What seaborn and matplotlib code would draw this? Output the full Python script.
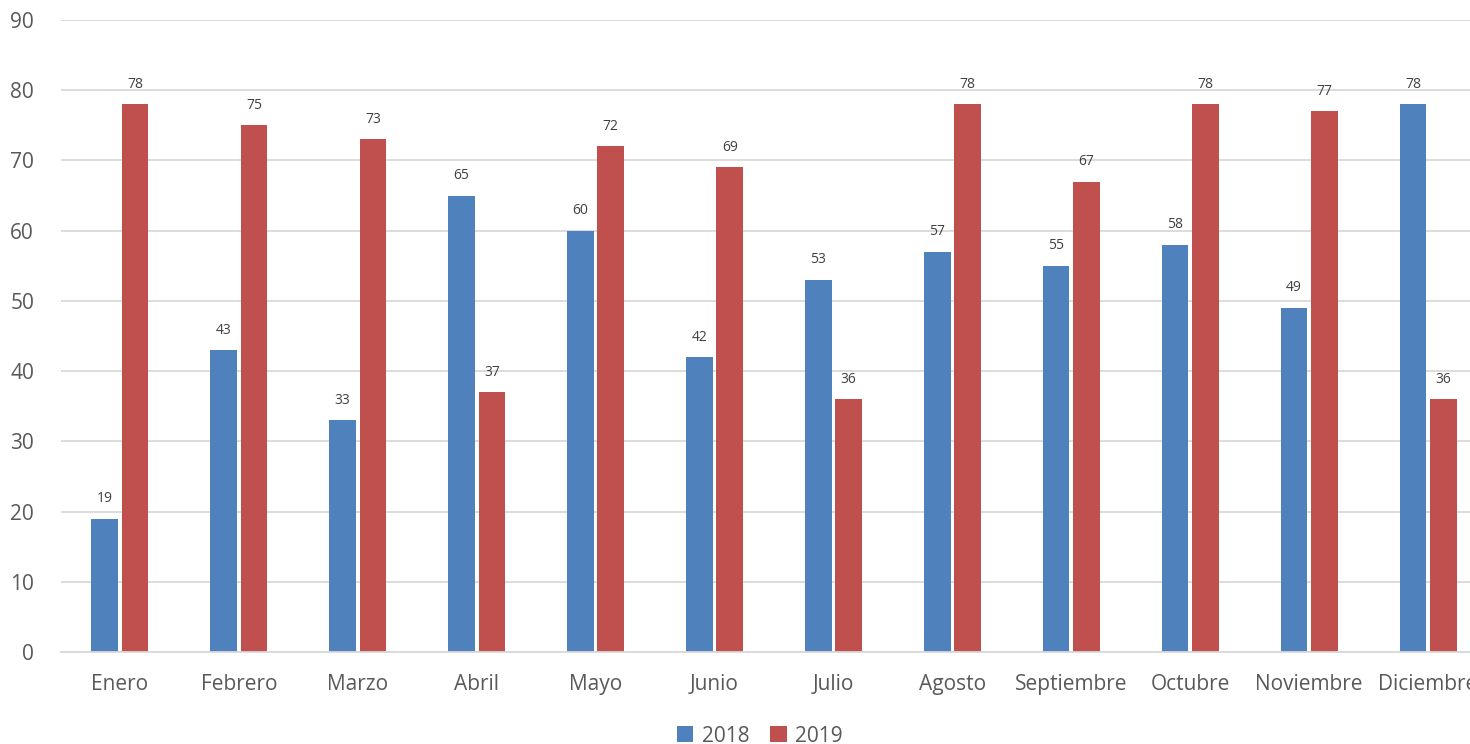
import matplotlib
matplotlib.use("Agg")
import matplotlib.pyplot as plt
import seaborn as sns
import pandas as pd

months = ["Enero", "Febrero", "Marzo", "Abril", "Mayo", "Junio", "Julio",
          "Agosto", "Septiembre", "Octubre", "Noviembre", "Diciembre"]
v2018 = [19, 43, 33, 65, 60, 42, 53, 57, 55, 58, 49, 78]
v2019 = [78, 75, 73, 37, 72, 69, 36, 78, 67, 78, 77, 36]
series = ["2018", "2019"]
colors = ["#4F81BD", "#C0504D"]

df = pd.DataFrame({
    "mes": months * 2,
    "valor": v2018 + v2019,
    "serie": [series[0]] * len(months) + [series[1]] * len(months),
})

sns.set_theme(style="white")
plt.rcParams["font.family"] = ["Open Sans", "DejaVu Sans"]
text_color = "#595959"

fig = plt.figure(figsize=(14.7, 7.44), dpi=100)
ax = fig.add_axes([60.5 / 1470, 92 / 744, 1427 / 1470, 632 / 744])

sns.barplot(data=df, x="mes", y="valor", hue="serie", order=months,
            hue_order=series, palette=colors, width=0.51, gap=0.12,
            saturation=1, ax=ax, legend=True, linewidth=0)

for c in ax.containers:
    ax.bar_label(c, padding=9, fontsize=10, color="#404040")

ax.set_ylim(0, 90)
ax.set_xlim(-0.5, 11.5)
ax.set_yticks(range(0, 91, 10))
ax.yaxis.grid(True, color="#d9d9d9", linewidth=1.3)
ax.set_axisbelow(True)
for s in ["top", "right", "left"]:
    ax.spines[s].set_visible(False)
ax.spines["bottom"].set_color("#d9d9d9")
ax.spines["bottom"].set_linewidth(1.3)
ax.set_xlabel("")
ax.set_ylabel("")
ax.tick_params(axis="y", labelsize=15, labelcolor=text_color, length=0, pad=19)
ax.tick_params(axis="x", labelsize=15, labelcolor=text_color, length=0, pad=16)

leg = ax.get_legend()
handles, labels = ax.get_legend_handles_labels()
leg.remove()
ax.legend(handles, labels, loc="center", bbox_to_anchor=(0.49, -0.133),
          ncol=2, frameon=False, fontsize=15, labelcolor=text_color,
          handlelength=0.8, handleheight=0.8, handletextpad=0.4,
          columnspacing=1.0)

fig.savefig("out.png", dpi=100)
